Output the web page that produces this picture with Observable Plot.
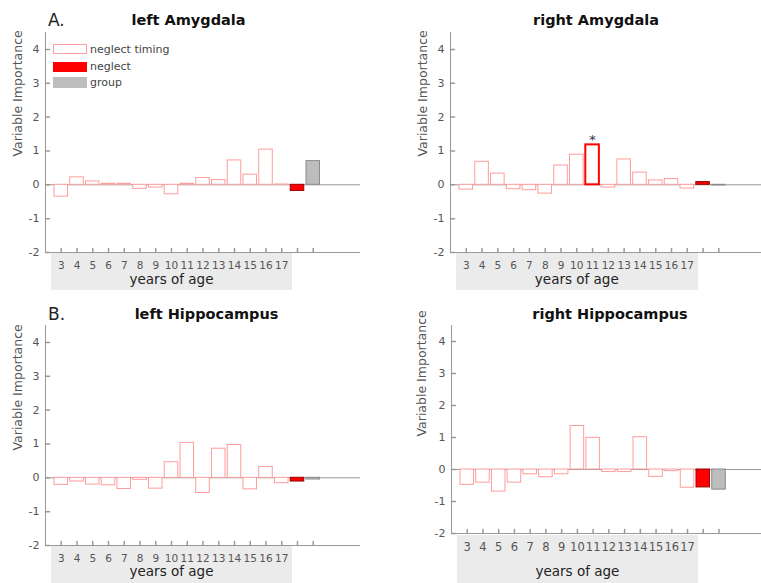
<!DOCTYPE html>
<html>
<head>
<meta charset="utf-8">
<script src="https://cdn.jsdelivr.net/npm/d3@7"></script>
<script src="https://cdn.jsdelivr.net/npm/@observablehq/plot@0.6"></script>
<style>
  body { margin: 0; background: #fff; }
  #wrap { position: relative; width: 761px; height: 583px; overflow: hidden; background: #fff; font-family: "DejaVu Sans", sans-serif; }
  .abs { position: absolute; white-space: nowrap; }
</style>
</head>
<body>
<div id="wrap"></div>
<script>
// ---------- data ----------
const ageLabels = ["3","4","5","6","7","8","9","10","11","12","13","14","15","16","17"];
const extraCategories = ["neglect", "group"];
const leftAmygdala     = [-0.35, 0.22, 0.10, 0.03, 0.03, -0.12, -0.08, -0.28, 0.03, 0.20, 0.14, 0.72, 0.30, 1.04, 0.01, -0.18, 0.70];
const rightAmygdala    = [-0.14, 0.68, 0.33, -0.13, -0.16, -0.26, 0.57, 0.89, 1.18, -0.08, 0.75, 0.36, 0.13, 0.17, -0.11, 0.08, -0.02];
const leftHippocampus  = [-0.21, -0.11, -0.20, -0.22, -0.33, -0.06, -0.32, 0.46, 1.03, -0.45, 0.86, 0.97, -0.34, 0.32, -0.16, -0.11, -0.05];
const rightHippocampus = [-0.48, -0.41, -0.69, -0.41, -0.15, -0.24, -0.15, 1.36, 0.99, -0.08, -0.08, 1.01, -0.23, -0.05, -0.57, -0.56, -0.63];
const significantAges = { "right Amygdala": ["11"] };
const yTicks = [-2, -1, 0, 1, 2, 3, 4];
const yDomain = [-2, 4.5];
const legendLabels = ["neglect timing", "neglect", "group"];
const yLabel = "Variable Importance";
const xLabel = "years of age";

// ---------- styling ----------
const colors = {
  timing: "#ff9c9c", sig: "#ff0000", neglectFill: "#ff0000", neglectStroke: "#9a0000",
  groupFill: "#bdbdbd", groupStroke: "#8a8a8a", axis: "#9a9a9a", zero: "#999999",
  band: "#ebebeb", tickText: "#555", label: "#222"
};

const panels = [
  { name: "left Amygdala", values: leftAmygdala, letter: "A.", left: 0, top: 0, width: 380, height: 290,
    mL: 45, mR: 20, mT: 32, mB: 38, xMax: 20, tickFont: 10.5, xlabDy: 22, ylabDx: -27.5, ylabDy: 14, bandGap: 0,
    titleCx: 188.5, titleTop: 12.7, legend: true },
  { name: "right Amygdala", values: rightAmygdala, left: 380, top: 0, width: 381, height: 290,
    mL: 70, mR: 0, mT: 32, mB: 38, xMax: 19.7, tickFont: 10.5, xlabDy: 22, ylabDx: -28, ylabDy: 14, bandGap: 0,
    titleCx: 596, titleTop: 12.7 },
  { name: "left Hippocampus", values: leftHippocampus, letter: "B.", left: 0, top: 290, width: 380, height: 293,
    mL: 45, mR: 20, mT: 35, mB: 38, xMax: 20, tickFont: 10.5, xlabDy: 21, ylabDx: -27.5, ylabDy: 15, bandGap: 0,
    titleCx: 206.5, titleTop: 306.7 },
  { name: "right Hippocampus", values: rightHippocampus, left: 380, top: 290, width: 381, height: 293,
    mL: 71, mR: 0, mT: 35, mB: 50, xMax: 19.7, tickFont: 11.5, xlabDy: 33, ylabDx: -30, ylabDy: 7, bandGap: 2,
    titleCx: 610, titleTop: 306.7 }
];

const wrap = document.getElementById("wrap");
const categories = [...ageLabels, ...extraCategories];
const tickShape = { draw(ctx, l) { ctx.moveTo(0, 0); ctx.lineTo(0, -l); } };

function addDiv(style, text) {
  const d = document.createElement("div");
  d.className = "abs";
  Object.assign(d.style, style);
  if (text != null) d.textContent = text;
  wrap.appendChild(d);
  return d;
}

for (const p of panels) {
  const sig = significantAges[p.name] || [];
  const rows = categories.map((c, i) => ({
    pos: i + 1, cat: c, value: p.values[i],
    kind: i < ageLabels.length ? "timing" : c,
    sig: sig.includes(c)
  }));
  const agePos = rows.filter(r => r.kind === "timing").map(r => r.pos);
  const fillOf = d => d.kind === "neglect" ? colors.neglectFill : d.kind === "group" ? colors.groupFill : "#ffffff";
  const strokeOf = d => d.kind === "neglect" ? colors.neglectStroke : d.kind === "group" ? colors.groupStroke : d.sig ? colors.sig : colors.timing;

  const chart = Plot.plot({
    width: p.width, height: p.height,
    marginLeft: p.mL, marginRight: p.mR, marginTop: p.mT, marginBottom: p.mB,
    style: { background: "transparent", fontFamily: "DejaVu Sans, sans-serif", fontSize: "11px", color: colors.tickText, overflow: "visible" },
    x: { domain: [0, p.xMax] },
    y: { domain: yDomain },
    color: { type: "identity" },
    marks: [
      Plot.ruleY([0], { stroke: colors.zero, strokeWidth: 1 }),
      Plot.rect(rows, {
        x1: d => d.pos - 0.43, x2: d => d.pos + 0.43, y1: 0, y2: "value",
        fill: fillOf, stroke: strokeOf, strokeWidth: d => d.sig ? 2 : 1
      }),
      Plot.text(rows.filter(d => d.sig), { x: "pos", y: "value", text: () => "*", lineAnchor: "bottom", dy: -1, fontSize: 13, fill: "#333" }),
      Plot.ruleX([0], { stroke: colors.axis }),
      Plot.ruleY([yDomain[0]], { stroke: colors.axis }),
      Plot.vector(rows, { x: "pos", y: yDomain[0], length: 4, rotate: 0, anchor: "start", shape: tickShape, stroke: colors.axis }),
      Plot.vector(yTicks, { x: 0, y: d => d, length: 4, rotate: 90, anchor: "start", shape: tickShape, stroke: colors.axis }),
      Plot.axisY(yTicks, { tickSize: 0, tickPadding: 6, fontSize: 11, label: null, color: colors.tickText, tickFormat: d => String(d) }),
      Plot.axisX(agePos, { tickSize: 0, tickPadding: 9, tickFormat: pos => ageLabels[pos - 1], fontSize: p.tickFont, label: null, color: colors.tickText }),
      Plot.text([xLabel], { x: d3.mean(agePos), frameAnchor: "bottom", lineAnchor: "top", dy: p.xlabDy, fontSize: 13.5, fill: colors.label }),
      Plot.text([yLabel], { frameAnchor: "left", rotate: -90, dx: p.ylabDx, dy: p.ylabDy, fontSize: 12.5, fill: colors.tickText })
    ]
  });

  // gray band behind the age tick labels, positioned with the chart's own x scale
  const xs = chart.scale("x");
  const bx1 = xs.apply(agePos[0] - 0.65), bx2 = xs.apply(agePos[agePos.length - 1] + 0.7);
  const axisY = p.height - p.mB;
  addDiv({ left: (p.left + bx1) + "px", top: (p.top + axisY + p.bandGap) + "px",
           width: (bx2 - bx1) + "px", height: (p.height - axisY - p.bandGap) + "px", background: colors.band });

  chart.style.position = "absolute";
  chart.style.left = p.left + "px";
  chart.style.top = p.top + "px";
  wrap.appendChild(chart);

  // title
  addDiv({ left: (p.titleCx - 150) + "px", top: p.titleTop + "px", width: "300px", textAlign: "center",
           font: "bold 14.5px 'DejaVu Sans', sans-serif", lineHeight: "1", color: "#111" }, p.name);
  if (p.letter) {
    addDiv({ left: (p.left + 48) + "px", top: (p.titleTop - 0.5) + "px", font: "17px 'DejaVu Sans', sans-serif",
             lineHeight: "1", color: "#222" }, p.letter);
  }
  if (p.legend) {
    const boxes = [
      { top: 44, h: 10, bg: "#fff", border: "1px solid " + colors.timing },
      { top: 62, h: 10, bg: colors.neglectFill, border: "none" },
      { top: 77, h: 11, bg: colors.groupFill, border: "none" }
    ];
    const centers = [50, 67, 83];
    legendLabels.forEach((lab, i) => {
      const b = boxes[i];
      addDiv({ left: "53px", top: b.top + "px", width: "34px", height: b.h + "px", background: b.bg,
               border: b.border, boxSizing: "border-box" });
      addDiv({ left: "90px", top: (centers[i] - 7) + "px", font: "11px 'DejaVu Sans', sans-serif",
               lineHeight: "14px", color: "#444" }, lab);
    });
  }
}
</script>
</body>
</html>
